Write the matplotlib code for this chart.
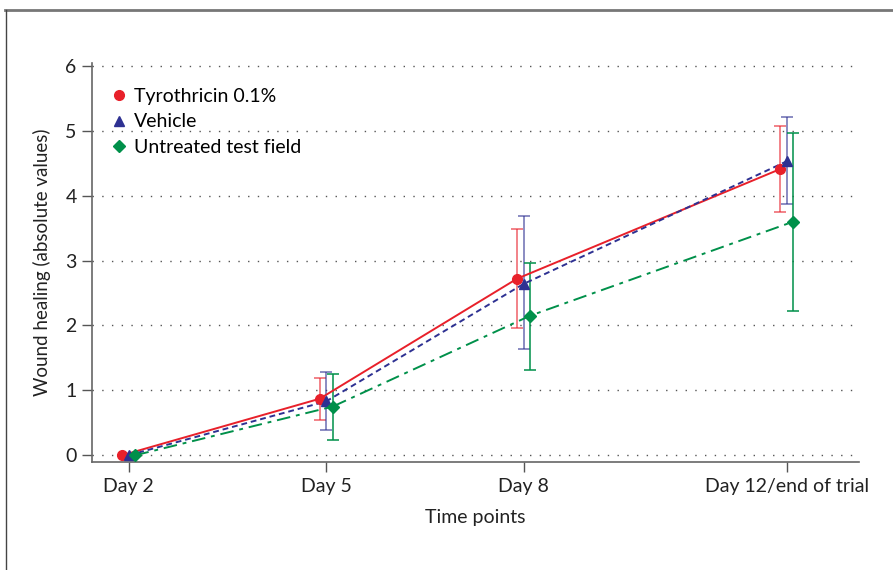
import numpy as np
import matplotlib
matplotlib.use("Agg")
import matplotlib.pyplot as plt
from matplotlib.lines import Line2D

plt.rcParams['font.family'] = ['Lato', 'DejaVu Sans']

# data
days = [2, 5, 8, 12]
day_labels = ["Day 2", "Day 5", "Day 8", "Day 12/end of trial"]
series_names = ["Tyrothricin 0.1%", "Vehicle", "Untreated test field"]

tyro_mean = [0.0, 0.87, 2.72, 4.41]
tyro_low = [0.0, 0.54, 1.96, 3.75]
tyro_high = [0.0, 1.19, 3.49, 5.08]

veh_mean = [0.0, 0.83, 2.64, 4.53]
veh_low = [0.0, 0.39, 1.64, 3.87]
veh_high = [0.0, 1.28, 3.68, 5.21]

untr_mean = [0.0, 0.75, 2.15, 3.60]
untr_low = [0.0, 0.24, 1.31, 2.23]
untr_high = [0.0, 1.25, 2.97, 4.96]

fig = plt.figure(figsize=(8.93, 5.7), dpi=100)
ax = fig.add_axes([0.103, 0.19, 0.859, 0.70])

# frame lines of the figure (top and left)
fig.add_artist(Line2D([0.006, 1.0], [0.983, 0.983], color="#777777", lw=2, transform=fig.transFigure))
fig.add_artist(Line2D([0.0067, 0.0067], [0.0, 0.983], color="#444444", lw=1, transform=fig.transFigure))

styles = [
    (tyro_mean, tyro_low, tyro_high, "#e8202a", "o", "-", -0.1, 0.6),
    (veh_mean, veh_low, veh_high, "#2e3192", "^", (0, (3, 2)), 0.0, 0.6),
    (untr_mean, untr_low, untr_high, "#00904a", "D", (0, (7, 3, 2, 3)), 0.1, 0.85),
]

handles = []
for (m, lo, hi, col, mk, ls, off, ea), name in zip(styles, series_names):
    x = np.array(days) + off
    m = np.array(m)
    yerr = [m - np.array(lo), np.array(hi) - m]
    ax.errorbar(x[1:], m[1:], yerr=[yerr[0][1:], yerr[1][1:]], fmt="none",
                ecolor=col, alpha=ea, elinewidth=1.3, capsize=4, capthick=1.3, zorder=2)
    ax.plot(x, m, color=col, linestyle=ls, lw=1.4, zorder=3)
    ax.plot(x, m, linestyle="none", marker=mk, color=col,
            markersize=7 if mk != "D" else 6, zorder=4)
    handles.append(Line2D([], [], linestyle="none", marker=mk, color=col,
                          markersize=7 if mk != "D" else 6, label=name))

ax.set_xlim(1.44, 13.1)
ax.set_ylim(-0.1, 6.05)
ax.set_xticks(days)
ax.set_xticklabels(day_labels)
ax.set_yticks(range(0, 7))

for y in range(0, 7):
    ax.axhline(y, color="#555555", lw=1, linestyle=(0, (1, 6)), zorder=1)

for s in ["top", "right"]:
    ax.spines[s].set_visible(False)
for s in ["left", "bottom"]:
    ax.spines[s].set_color("#666666")
    ax.spines[s].set_linewidth(1.2)

ax.tick_params(axis="both", direction="out", length=7, width=1, color="#555555",
               labelsize=14, labelcolor="#222222")
ax.tick_params(axis="x", pad=5)
ax.tick_params(axis="y", pad=4)

ax.set_xlabel("Time points", fontsize=14, labelpad=10, color="#222222")
ax.set_ylabel("Wound healing (absolute values)", fontsize=13.5, labelpad=10, color="#222222")

ax.legend(handles=handles, loc="upper left", bbox_to_anchor=(0.0, 0.98), frameon=False,
          fontsize=14, handlelength=1.0, handletextpad=0.25, labelspacing=0.42,
          borderaxespad=0.5)

fig.savefig("out.png", dpi=100)
